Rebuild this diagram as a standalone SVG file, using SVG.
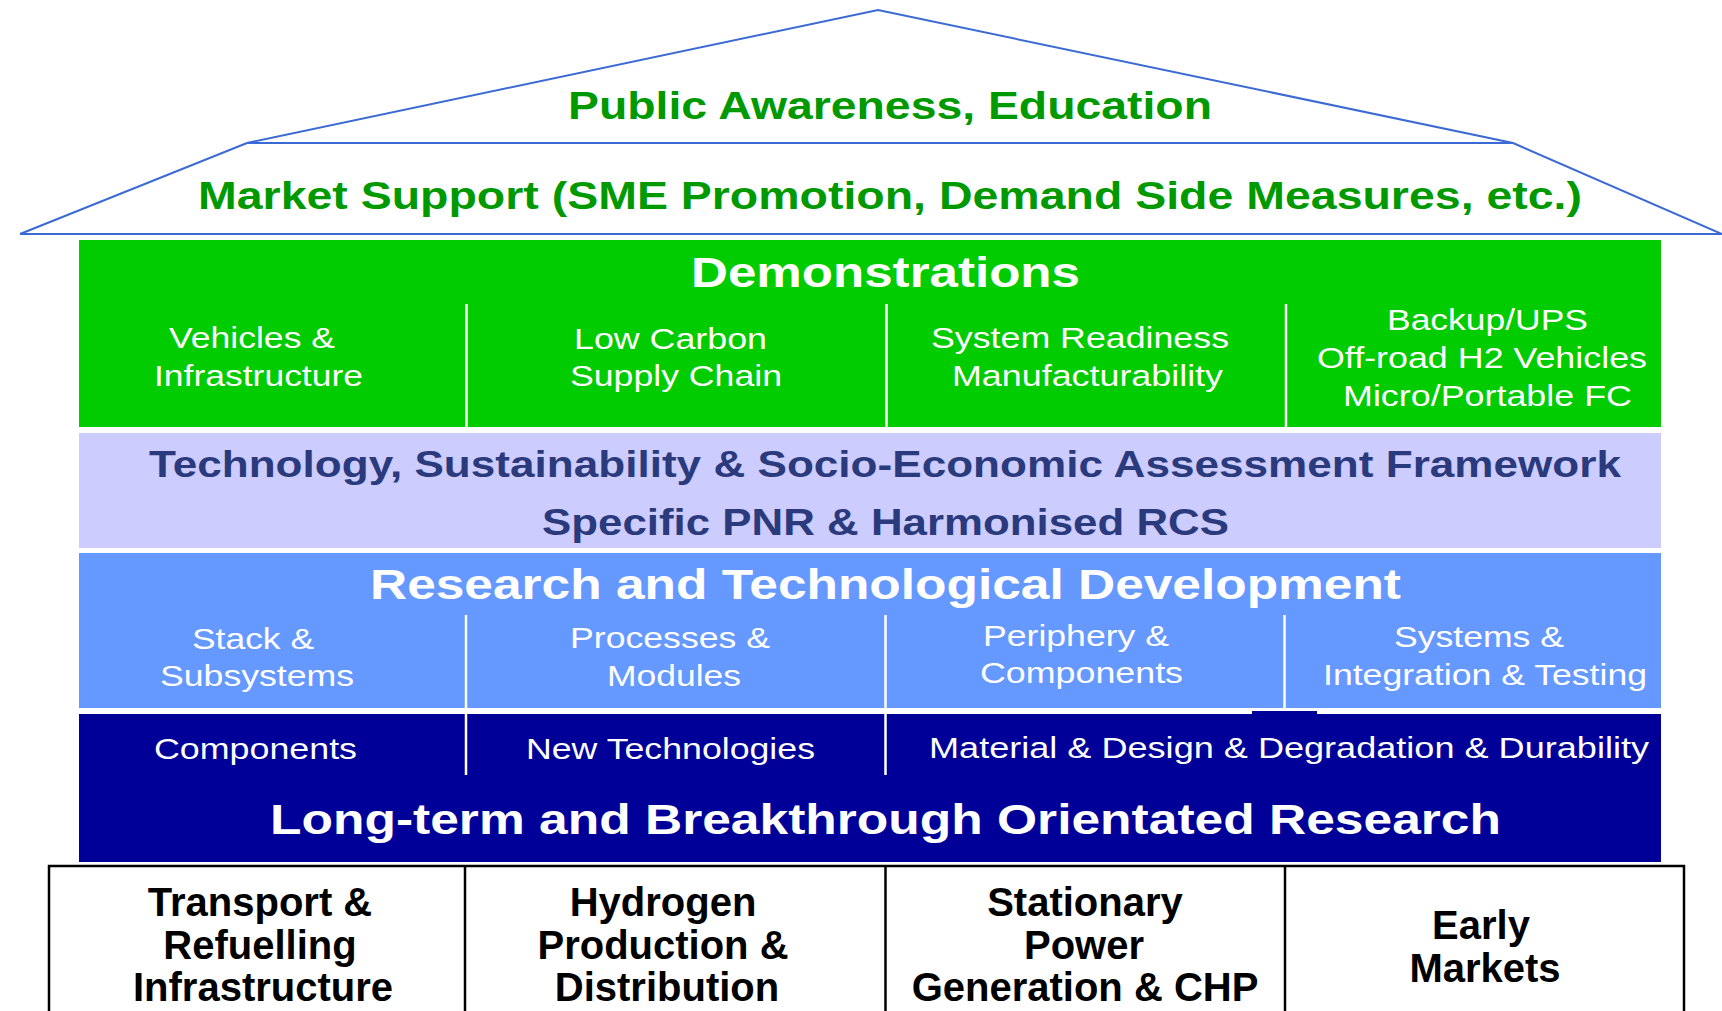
<svg xmlns="http://www.w3.org/2000/svg" width="1722" height="1011" viewBox="0 0 1722 1011">
<style>
.roof{fill:none;stroke:#3B6AD4;stroke-width:2}
.t{font-family:"Liberation Sans",Arial,sans-serif}
.rg{font-size:38px;font-weight:bold;fill:#009900}
.hw{font-weight:bold;fill:#fff}
.cw{font-size:30px;fill:#fff}
.nv{font-size:37px;font-weight:bold;fill:#2A3A7C}
.bk{font-size:40px;font-weight:bold;fill:#000;text-anchor:middle}
.dw{stroke:#fff;stroke-width:2.5}
.db{stroke:#000;stroke-width:2.5}
</style>
<rect width="1722" height="1011" fill="#fff"/>
<g id="roof">
<polyline class="roof" points="20,234 247,143 878,10 1513,143 1722,234"/>
<line class="roof" x1="247" y1="143" x2="1513" y2="143"/>
<line class="roof" x1="20" y1="234" x2="1722" y2="234" stroke-width="2.5"/>
<text class="t rg" x="568" y="119" textLength="644" lengthAdjust="spacingAndGlyphs">Public Awareness, Education</text>
<text class="t rg" x="198" y="209" textLength="1384" lengthAdjust="spacingAndGlyphs">Market Support (SME Promotion, Demand Side Measures, etc.)</text>
</g>
<g id="demonstrations">
<rect x="79" y="240" width="1582" height="187" fill="#00CC00"/>
<line class="dw" x1="466.5" y1="304" x2="466.5" y2="427"/>
<line class="dw" x1="886.5" y1="304" x2="886.5" y2="427"/>
<line class="dw" x1="1286" y1="304" x2="1286" y2="427"/>
<text class="t hw" font-size="42" x="691" y="287" textLength="389" lengthAdjust="spacingAndGlyphs">Demonstrations</text>
<text class="t cw" x="169" y="348" textLength="166" lengthAdjust="spacingAndGlyphs">Vehicles &amp;</text>
<text class="t cw" x="154" y="386" textLength="209" lengthAdjust="spacingAndGlyphs">Infrastructure</text>
<text class="t cw" x="574" y="349" textLength="193" lengthAdjust="spacingAndGlyphs">Low Carbon</text>
<text class="t cw" x="570" y="386" textLength="212" lengthAdjust="spacingAndGlyphs">Supply Chain</text>
<text class="t cw" x="931" y="348" textLength="298" lengthAdjust="spacingAndGlyphs">System Readiness</text>
<text class="t cw" x="952" y="386" textLength="271" lengthAdjust="spacingAndGlyphs">Manufacturability</text>
<text class="t cw" x="1387" y="330" textLength="201" lengthAdjust="spacingAndGlyphs">Backup/UPS</text>
<text class="t cw" x="1317" y="368" textLength="330" lengthAdjust="spacingAndGlyphs">Off-road H2 Vehicles</text>
<text class="t cw" x="1343" y="406" textLength="289" lengthAdjust="spacingAndGlyphs">Micro/Portable FC</text>
</g>
<g id="assessment">
<rect x="79" y="433" width="1582" height="115" fill="#CCCCFF"/>
<text class="t nv" x="149" y="477" textLength="1472" lengthAdjust="spacingAndGlyphs">Technology, Sustainability &amp; Socio-Economic Assessment Framework</text>
<text class="t nv" x="542" y="535" textLength="687" lengthAdjust="spacingAndGlyphs">Specific PNR &amp; Harmonised RCS</text>
</g>
<g id="rtd">
<rect x="79" y="553" width="1582" height="155" fill="#6699FF"/>
<line class="dw" x1="466" y1="615" x2="466" y2="708"/>
<line class="dw" x1="885.5" y1="615" x2="885.5" y2="708"/>
<line class="dw" x1="1284.5" y1="615" x2="1284.5" y2="708"/>
<text class="t hw" font-size="43" x="370" y="599" textLength="1031" lengthAdjust="spacingAndGlyphs">Research and Technological Development</text>
<text class="t cw" x="192" y="649" textLength="122" lengthAdjust="spacingAndGlyphs">Stack &amp;</text>
<text class="t cw" x="160" y="686" textLength="194" lengthAdjust="spacingAndGlyphs">Subsystems</text>
<text class="t cw" x="570" y="648" textLength="200" lengthAdjust="spacingAndGlyphs">Processes &amp;</text>
<text class="t cw" x="607" y="686" textLength="134" lengthAdjust="spacingAndGlyphs">Modules</text>
<text class="t cw" x="983" y="646" textLength="186" lengthAdjust="spacingAndGlyphs">Periphery &amp;</text>
<text class="t cw" x="980" y="683" textLength="203" lengthAdjust="spacingAndGlyphs">Components</text>
<text class="t cw" x="1394" y="647" textLength="170" lengthAdjust="spacingAndGlyphs">Systems &amp;</text>
<text class="t cw" x="1323" y="685" textLength="324" lengthAdjust="spacingAndGlyphs">Integration &amp; Testing</text>
</g>
<g id="long-term">
<rect x="79" y="714" width="1582" height="148" fill="#000099"/>
<rect x="1252" y="711" width="65" height="4" fill="#000099"/>
<line class="dw" x1="466" y1="714" x2="466" y2="775"/>
<line class="dw" x1="885.5" y1="714" x2="885.5" y2="775"/>
<text class="t cw" x="154" y="759" textLength="203" lengthAdjust="spacingAndGlyphs">Components</text>
<text class="t cw" x="526" y="759" textLength="289" lengthAdjust="spacingAndGlyphs">New Technologies</text>
<text class="t cw" x="929" y="758" textLength="720" lengthAdjust="spacingAndGlyphs">Material &amp; Design &amp; Degradation &amp; Durability</text>
<text class="t hw" font-size="43" x="270" y="834" textLength="1231" lengthAdjust="spacingAndGlyphs">Long-term and Breakthrough Orientated Research</text>
</g>
<g id="applications">
<rect x="49" y="866" width="1635" height="160" fill="none" stroke="#000" stroke-width="2.5"/>
<line class="db" x1="465" y1="866" x2="465" y2="1011"/>
<line class="db" x1="885.5" y1="866" x2="885.5" y2="1011"/>
<line class="db" x1="1285" y1="866" x2="1285" y2="1011"/>
<text class="t bk" x="260" y="916">Transport &amp;</text>
<text class="t bk" x="260" y="959">Refuelling</text>
<text class="t bk" x="263" y="1001">Infrastructure</text>
<text class="t bk" x="663" y="916">Hydrogen</text>
<text class="t bk" x="663" y="959">Production &amp;</text>
<text class="t bk" x="667" y="1001">Distribution</text>
<text class="t bk" x="1085" y="916">Stationary</text>
<text class="t bk" x="1084" y="959">Power</text>
<text class="t bk" x="1085" y="1001">Generation &amp; CHP</text>
<text class="t bk" x="1481" y="939">Early</text>
<text class="t bk" x="1485" y="982">Markets</text>
</g>
</svg>
